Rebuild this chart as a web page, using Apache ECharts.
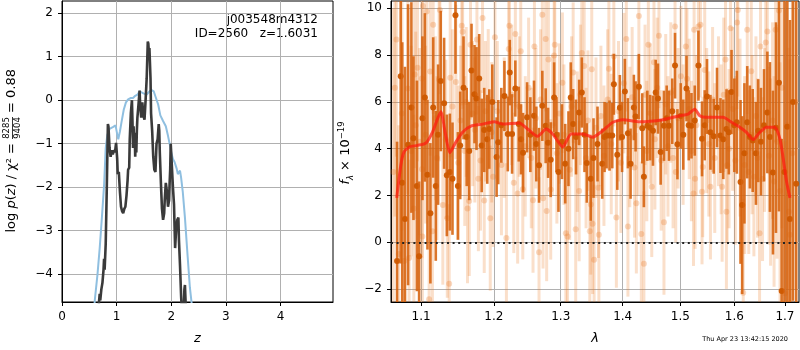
<!DOCTYPE html>
<html>
<head>
<meta charset="utf-8">
<script src="https://cdn.jsdelivr.net/npm/echarts@6.0.0/dist/echarts.min.js"></script>
<style>
html, body { margin: 0; padding: 0; background: #fff; }
#chart { width: 800px; height: 350px; }
</style>
</head>
<body>
<div id="chart"></div>
<script>
// ==========================================
// DATA
// ==========================================
// left panel: log p(z), black = fit, blue = prior-ish curve
const pzBlack = [
  [0.66,-4.9],[0.69,-4.45],[0.70,-4.6],[0.72,-4.35],[0.74,-4.2],[0.76,-3.9],[0.77,-3.65],[0.78,-3.9],
  [0.80,-3.3],[0.82,-2.0],[0.84,-0.55],[0.85,-0.6],[0.87,-1.1],[0.89,-1.3],[0.91,-1.15],[0.93,-1.25],
  [0.95,-1.15],[0.97,-1.2],[0.99,-0.98],[1.01,-1.35],[1.02,-1.7],[1.04,-1.65],[1.06,-2.1],[1.08,-2.45],
  [1.10,-2.55],[1.12,-2.6],[1.14,-2.5],[1.16,-2.45],[1.18,-2.2],[1.20,-1.85],[1.21,-1.6],[1.23,-1.55],
  [1.24,-0.9],[1.26,-0.3],[1.28,0.0],[1.29,-0.5],[1.30,-1.1],[1.31,-0.6],[1.32,-1.0],[1.33,-0.75],
  [1.34,-1.3],[1.35,-0.9],[1.36,-1.2],[1.37,-0.7],[1.38,-0.4],[1.40,-0.1],[1.42,0.22],[1.43,-0.1],
  [1.45,-0.4],[1.47,-0.05],[1.49,-0.35],[1.51,-0.45],[1.53,0.0],[1.55,0.5],[1.57,1.35],[1.58,1.3],
  [1.59,1.1],[1.60,1.2],[1.62,0.5],[1.63,-0.3],[1.65,-0.7],[1.67,-1.3],[1.69,-1.6],[1.71,-1.65],
  [1.73,-1.0],[1.75,-0.9],[1.77,-0.55],[1.78,-0.7],[1.79,-1.2],[1.81,-1.9],[1.83,-2.5],[1.85,-2.75],
  [1.87,-2.6],[1.88,-2.3],[1.90,-1.9],[1.92,-2.1],[1.94,-2.45],[1.96,-2.3],[1.97,-1.9],[1.98,-1.6],
  [1.99,-1.0],[2.01,-1.5],[2.03,-2.0],[2.05,-2.4],[2.06,-2.9],[2.07,-3.4],[2.09,-2.95],[2.11,-2.75],
  [2.13,-2.7],[2.14,-3.2],[2.16,-3.8],[2.18,-4.5],[2.20,-5.0],[2.22,-5.2],[2.24,-4.35],[2.25,-4.25],
  [2.27,-4.9],[2.29,-5.3]
];
const pzBlue = [
  [0.55,-5.6],[0.60,-4.6],[0.65,-4.0],[0.69,-3.4],[0.73,-2.7],[0.77,-1.96],[0.80,-1.1],[0.83,-0.8],
  [0.87,-0.66],[0.93,-0.62],[0.98,-0.58],[1.01,-0.78],[1.03,-0.9],[1.06,-0.72],[1.09,-0.5],[1.13,-0.22],
  [1.17,-0.05],[1.21,0.02],[1.26,0.05],[1.30,0.05],[1.34,0.1],[1.38,0.13],[1.42,0.2],[1.45,0.22],
  [1.50,0.15],[1.55,0.13],[1.60,0.2],[1.64,0.23],[1.68,0.2],[1.72,0.05],[1.76,-0.1],[1.80,-0.35],
  [1.85,-0.48],[1.90,-0.6],[1.94,-0.82],[1.97,-1.0],[2.00,-1.2],[2.03,-1.35],[2.06,-1.42],[2.08,-1.5],
  [2.10,-1.58],[2.12,-1.7],[2.14,-1.66],[2.16,-1.62],[2.18,-1.78],[2.21,-2.1],[2.25,-2.7],[2.30,-3.6],
  [2.34,-4.3],[2.38,-4.75],[2.42,-5.6]
];
const zTicks = [0, 1, 2, 3, 4];
const logpTicks = [-4, -3, -2, -1, 0, 1, 2];

// right panel: spectrum [lambda, flux, err]
const darkPts = [
  [1.0688,-0.8,5.1],[1.0735,7.1,8.0],[1.0755,2.55,6.0],[1.0790,1.0,6.5],[1.0830,4.17,6.0],[1.0873,5.76,4.5],
  [1.0900,4.45,3.5],[1.0945,2.41,4.5],[1.0974,-0.6,3.2],[1.1018,5.3,3.5],[1.1050,6.19,3.6],[1.1084,2.89,3.2],
  [1.1123,1.24,3.0],[1.1160,5.76,3.0],[1.1195,2.41,3.2],[1.1226,4.6,3.0],[1.1262,6.89,3.0],[1.1307,5.94,2.8],
  [1.1344,2.86,2.6],[1.1385,3.0,2.5],[1.1421,2.72,2.4],[1.1462,9.7,2.5],[1.1495,2.41,2.3],[1.1527,4.14,2.3],
  [1.1573,6.6,2.2],[1.1617,4.5,2.1],[1.1652,3.9,2.1],[1.1684,7.34,2.0],[1.1726,6.33,2.1],[1.1754,6.14,2.2],
  [1.1792,7.0,1.9],[1.1827,4.14,2.0],[1.1863,4.8,1.8],[1.1906,4.4,1.9],[1.1935,4.84,1.7],[1.1978,6.0,1.6],
  [1.2040,3.64,1.7],[1.2064,4.28,1.8],[1.2108,5.0,1.6],[1.2153,6.25,1.5],[1.2202,4.63,1.6],[1.2231,7.25,1.4],
  [1.2265,4.63,1.7],[1.2313,6.57,1.2],[1.2363,5.05,1.6],[1.2397,4.4,1.5],[1.2427,3.83,1.7],[1.2487,5.34,1.5],
  [1.2536,4.6,1.6],[1.2591,5.41,1.5],[1.2626,4.2,1.6],[1.2667,3.29,1.6],[1.2717,5.83,1.5],[1.2768,4.98,1.6],
  [1.2805,4.25,1.5],[1.2845,3.53,1.6],[1.2898,6.19,1.5],[1.2934,4.6,1.6],[1.2965,3.0,1.7],[1.3019,4.3,1.6],
  [1.3070,3.36,1.7],[1.3121,4.0,1.6],[1.3157,6.19,1.5],[1.3195,5.05,1.5],[1.3240,4.5,1.6],[1.3290,5.55,1.4],
  [1.3332,6.4,1.5],[1.3375,4.6,1.6],[1.3412,3.39,1.7],[1.3476,2.72,1.8],[1.3520,3.6,1.7],[1.3585,4.2,1.6],
  [1.3662,3.36,1.5],[1.3700,4.5,1.5],[1.3733,4.56,1.4],[1.3782,4.56,1.5],[1.3827,4.56,1.4],[1.3853,6.75,1.3],
  [1.3910,3.74,1.5],[1.3953,5.75,1.4],[1.3990,4.5,1.5],[1.4037,6.44,1.4],[1.4088,4.66,1.5],[1.4133,3.36,1.5],
  [1.4189,5.76,1.4],[1.4218,5.38,1.5],[1.4274,6.65,1.4],[1.4332,4.87,1.5],[1.4360,2.8,1.3],[1.4419,4.98,1.5],
  [1.4468,4.9,1.4],[1.4517,4.77,1.5],[1.4564,6.4,1.4],[1.4604,6.14,1.5],[1.4651,3.86,1.4],[1.4709,4.98,1.5],
  [1.4757,5.3,1.4],[1.4798,4.98,1.5],[1.4855,5.6,1.4],[1.4905,7.55,1.4],[1.4948,4.19,1.5],[1.5007,5.4,1.4],
  [1.5053,4.6,1.5],[1.5111,6.57,1.4],[1.5151,5.0,1.5],[1.5201,4.98,1.4],[1.5261,5.2,1.5],[1.5328,7.55,1.5],
  [1.5394,4.42,1.6],[1.5444,5.0,1.5],[1.5486,6.23,1.6],[1.5550,4.7,1.6],[1.5611,4.53,1.6],[1.5673,5.76,1.7],
  [1.5738,4.56,1.6],[1.5791,4.4,1.7],[1.5852,4.84,1.7],[1.5896,4.7,1.8],[1.5947,6.42,1.8],[1.6001,5.0,2.0],
  [1.6049,5.13,2.2],[1.6120,2.58,3.5],[1.6152,1.59,3.8],[1.6195,3.8,3.0],[1.6250,5.13,2.4],[1.6301,4.5,2.2],
  [1.6357,4.35,2.2],[1.6420,3.8,2.2],[1.6465,4.77,2.2],[1.6519,4.3,2.3],[1.6579,5.0,2.4],[1.6646,5.55,2.6],
  [1.6697,4.5,3.2],[1.6758,2.98,3.5],[1.6818,4.9,4.5],[1.6878,6.82,5.5],[1.6933,-2.08,6.5],[1.6990,3.0,7.5],
  [1.7048,4.94,8.0],[1.7102,1.0,8.5],[1.7163,6.0,8.5],[1.7230,2.5,9.0]
];
const lightPts = [
  [1.064,3.0,7.0],[1.066,6.6,5.5],[1.068,8.66,5.0],[1.071,-0.5,5.5],[1.075,5.5,5.0],[1.078,-0.8,4.5],
  [1.0827,6.57,4.5],[1.0843,-0.67,4.2],[1.087,3.9,4.5],[1.0905,1.45,4.0],[1.0915,7.17,4.0],[1.093,5.0,4.0],
  [1.0953,7.46,4.0],[1.098,4.3,4.0],[1.101,7.0,3.8],[1.1012,3.12,3.8],[1.1017,0.25,3.8],[1.1025,10.1,4.0],
  [1.106,4.6,3.8],[1.1073,9.86,4.0],[1.1106,-2.43,3.8],[1.112,7.3,3.6],[1.115,0.47,3.6],[1.116,9.29,3.8],
  [1.119,5.3,3.5],[1.121,3.6,3.5],[1.124,6.96,3.5],[1.125,9.93,3.6],[1.129,1.59,3.4],[1.133,4.4,3.4],
  [1.135,1.03,3.4],[1.1376,-1.77,3.4],[1.139,7.03,3.4],[1.142,5.8,3.3],[1.1467,6.85,3.3],[1.150,3.4,3.3],
  [1.153,5.2,3.2],[1.1548,9.25,3.4],[1.156,9.0,3.3],[1.159,3.9,3.2],[1.161,6.0,3.2],[1.1628,1.45,3.2],
  [1.1652,1.76,3.2],[1.167,8.44,3.2],[1.170,5.5,3.1],[1.173,4.8,3.1],[1.176,8.66,3.2],[1.178,2.72,3.1],
  [1.181,3.5,3.0],[1.1839,9.58,3.2],[1.1863,1.79,3.1],[1.188,5.6,3.0],[1.192,6.11,3.0],[1.1949,1.03,3.1],
  [1.197,4.7,3.0],[1.199,2.8,3.0],[1.2016,8.76,3.1],[1.205,5.6,3.0],[1.211,3.3,3.0],[1.215,4.9,3.0],
  [1.2182,0.18,3.2],[1.2216,8.26,3.1],[1.2225,9.25,3.2],[1.226,6.3,3.0],[1.229,2.54,3.0],[1.2313,8.9,3.1],
  [1.2347,2.09,3.0],[1.237,5.8,3.0],[1.2393,8.16,3.1],[1.2423,2.27,3.0],[1.246,4.1,3.0],[1.251,6.6,3.0],
  [1.255,3.6,3.0],[1.2576,1.8,3.1],[1.2597,8.37,3.1],[1.262,5.3,3.0],[1.2667,-0.42,3.2],[1.269,6.1,3.0],
  [1.2717,9.72,3.2],[1.2728,1.88,3.0],[1.2768,8.69,3.1],[1.2783,1.34,3.0],[1.281,7.81,3.0],[1.2845,2.26,3.0],
  [1.287,5.0,3.0],[1.2898,7.98,3.0],[1.2908,8.44,3.1],[1.294,3.8,3.0],[1.298,5.5,3.0],[1.3026,6.82,3.0],
  [1.305,4.6,3.0],[1.308,0.39,3.1],[1.3106,0.25,3.1],[1.314,3.1,3.0],[1.317,5.8,3.0],[1.3195,7.25,3.0],
  [1.3235,0.56,3.1],[1.326,4.3,3.0],[1.329,2.19,3.0],[1.331,6.3,3.0],[1.3332,8.09,3.1],[1.337,7.53,3.0],
  [1.340,3.6,3.0],[1.343,5.2,3.0],[1.346,0.47,3.1],[1.3476,1.62,3.0],[1.3492,7.39,3.0],[1.3505,0.79,3.0],
  [1.353,-0.74,3.2],[1.356,4.9,3.0],[1.360,2.33,3.0],[1.3607,0.32,3.1],[1.364,5.4,3.0],[1.369,3.7,3.0],
  [1.375,6.1,3.0],[1.3771,7.42,3.0],[1.381,4.2,3.0],[1.3853,7.95,3.0],[1.3895,1.06,3.0],[1.393,5.6,3.0],
  [1.397,3.4,3.0],[1.402,6.8,3.0],[1.4061,8.69,3.1],[1.4088,0.68,3.0],[1.412,4.5,3.0],[1.416,6.2,3.0],
  [1.420,3.2,3.0],[1.4231,1.67,3.0],[1.426,5.0,3.0],[1.4274,9.67,3.2],[1.4316,0.35,3.1],[1.436,-0.92,3.1],
  [1.438,6.3,3.0],[1.441,3.9,3.0],[1.4437,8.44,3.0],[1.447,5.5,3.0],[1.4496,2.37,3.0],[1.4534,7.69,3.0],
  [1.455,4.4,3.0],[1.459,6.6,3.0],[1.4621,8.83,3.1],[1.466,3.5,3.0],[1.4709,0.86,3.1],[1.474,5.9,3.0],
  [1.478,4.1,3.0],[1.483,6.4,3.0],[1.487,3.6,3.0],[1.4905,9.22,3.1],[1.4918,3.0,3.0],[1.496,5.3,3.0],
  [1.501,7.1,3.0],[1.505,4.6,3.0],[1.5099,8.37,3.1],[1.512,6.99,3.0],[1.516,5.7,3.0],[1.520,3.9,3.0],
  [1.5238,2.09,3.1],[1.5249,9.08,3.1],[1.5267,2.72,3.0],[1.529,5.0,3.0],[1.5328,9.22,3.1],[1.5365,9.29,3.1],
  [1.5394,2.16,3.1],[1.5407,3.22,3.0],[1.5444,7.36,3.0],[1.548,5.2,3.1],[1.552,4.2,3.1],[1.555,2.37,3.1],
  [1.559,6.1,3.1],[1.563,3.6,3.2],[1.570,5.6,3.2],[1.575,4.4,3.2],[1.5769,2.37,3.2],[1.580,6.3,3.3],
  [1.5833,7.81,3.3],[1.585,1.31,3.3],[1.5865,3.29,3.3],[1.590,4.0,3.4],[1.5928,9.15,3.4],[1.597,5.7,3.5],
  [1.602,3.5,3.6],[1.6054,9.39,3.7],[1.6068,9.93,3.7],[1.611,4.9,3.8],[1.6172,-2.15,4.0],[1.620,3.3,3.8],
  [1.625,9.08,3.6],[1.628,3.0,3.5],[1.6328,7.31,3.4],[1.6345,4.6,3.4],[1.638,2.8,3.4],[1.642,5.4,3.4],
  [1.645,3.6,3.4],[1.6491,0.39,3.5],[1.651,8.37,3.5],[1.655,2.7,3.5],[1.659,4.8,3.5],[1.6614,8.54,3.6],
  [1.6646,9.01,3.6],[1.668,3.7,3.8],[1.671,3.0,4.0],[1.675,5.2,4.2],[1.678,2.6,4.5],[1.6811,9.08,4.8],
  [1.684,4.3,5.0],[1.6878,9.9,5.5],[1.690,2.19,5.5],[1.694,6.6,6.0],[1.700,-2.18,6.5],[1.704,5.0,7.0],
  [1.708,1.31,7.0],[1.7102,0.32,7.5],[1.715,3.8,8.0],[1.722,6.0,8.0]
];
const modelLine = [
  [1.0684,1.9],[1.0736,3.29],[1.0778,3.86],[1.0843,4.07],[1.0951,4.14],[1.1062,4.24],[1.1150,4.7],
  [1.1263,5.58],[1.1321,4.7],[1.1385,3.83],[1.1467,4.28],[1.1559,4.7],[1.1676,4.96],[1.1839,5.05],
  [1.2006,5.15],[1.2126,5.05],[1.2372,5.1],[1.2496,4.84],[1.2646,4.53],[1.2774,4.84],[1.2876,4.63],
  [1.3031,4.07],[1.3163,4.63],[1.3348,4.63],[1.3508,4.49],[1.3671,4.77],[1.3836,5.13],[1.4003,5.24],
  [1.4287,5.15],[1.4691,5.24],[1.4989,5.41],[1.5139,5.48],[1.5261,5.69],[1.5352,5.41],[1.5476,5.34],
  [1.5787,5.34],[1.5947,5.13],[1.6106,4.92],[1.6236,4.7],[1.6365,4.39],[1.6497,4.7],[1.6631,4.92],
  [1.6797,4.92],[1.6898,4.42],[1.6965,3.57],[1.7034,2.58],[1.7102,1.9]
];
const lamTicks = [1.1, 1.2, 1.3, 1.4, 1.5, 1.6, 1.7];
const fluxTicks = [-2, 0, 2, 4, 6, 8, 10];

// ==========================================
// HELPERS
// ==========================================
const FONT = 'DejaVu Sans';
const minus = v => (v < 0 ? '\u2212' + Math.abs(v) : String(v));

function errBars(barColor, dotColor, barWidth) {
  return function (params, api) {
    const cs = params.coordSys;
    const x = api.value(0), y = api.value(1), e = api.value(2);
    const c = api.coord([x, y]);
    const hi = api.coord([x, y + e]);
    const lo = api.coord([x, y - e]);
    const top = cs.y, bot = cs.y + cs.height;
    if (c[0] < cs.x || c[0] > cs.x + cs.width) return null;
    const y1 = Math.max(top, Math.min(bot, hi[1]));
    const y2 = Math.max(top, Math.min(bot, lo[1]));
    const kids = [{
      type: 'line',
      shape: { x1: c[0], y1: y1, x2: c[0], y2: y2 },
      style: { stroke: barColor, lineWidth: barWidth }
    }];
    if (c[1] >= top && c[1] <= bot) {
      kids.push({ type: 'circle', shape: { cx: c[0], cy: c[1], r: 3 }, style: { fill: dotColor } });
    }
    return { type: 'group', children: kids };
  };
}

function axisCommon(ticks, fmt) {
  return {
    axisLine: { show: true, onZero: false, lineStyle: { color: '#000', width: 1 } },
    axisTick: { show: true, customValues: ticks, length: 4, lineStyle: { color: '#000' } },
    axisLabel: { customValues: ticks, formatter: fmt, color: '#000', fontFamily: FONT, fontSize: 12, margin: 9 },
    splitLine: { show: true, lineStyle: { color: '#b0b0b0', width: 1 } }
  };
}

// ==========================================
// CHART
// ==========================================
const chart = echarts.init(document.getElementById('chart'), null, { renderer: 'canvas' });

const lnLamTicks = lamTicks.map(Math.log);

const option = {
  animation: false,
  backgroundColor: '#fff',
  textStyle: { fontFamily: FONT },
  grid: [
    { left: 62, top: 1, width: 271, height: 303, show: true, borderColor: '#000', borderWidth: 1, backgroundColor: 'transparent' },
    { left: 391, top: 1, width: 408, height: 303, show: true, borderColor: '#000', borderWidth: 1, backgroundColor: 'transparent' }
  ],
  xAxis: [
    Object.assign({
      gridIndex: 0, type: 'value', min: 0, max: 4.96,
      name: 'z', nameLocation: 'middle', nameGap: 30,
      nameTextStyle: { fontFamily: FONT, fontSize: 13, fontStyle: 'italic', color: '#000' }
    }, axisCommon(zTicks, v => minus(v))),
    Object.assign({
      gridIndex: 1, type: 'value', min: Math.log(1.0611), max: Math.log(1.7288),
      name: 'λ', nameLocation: 'middle', nameGap: 30,
      nameTextStyle: { fontFamily: FONT, fontSize: 13, fontStyle: 'italic', color: '#000' }
    }, axisCommon(lnLamTicks, v => Math.exp(v).toFixed(1)))
  ],
  yAxis: [
    Object.assign({ gridIndex: 0, type: 'value', min: -4.64, max: 2.28 }, axisCommon(logpTicks, v => minus(v))),
    Object.assign({ gridIndex: 1, type: 'value', min: -2.55, max: 10.31 }, axisCommon(fluxTicks, v => minus(v)))
  ],
  series: [
    {
      type: 'line', xAxisIndex: 0, yAxisIndex: 0, data: pzBlue, showSymbol: false,
      lineStyle: { color: '#8fbfe0', width: 2 }, clip: true, z: 2
    },
    {
      type: 'line', xAxisIndex: 0, yAxisIndex: 0, data: pzBlack, showSymbol: false,
      lineStyle: { color: '#3a3a3a', width: 2.6 }, clip: true, z: 3
    },
    {
      type: 'custom', xAxisIndex: 1, yAxisIndex: 1,
      data: lightPts.map(p => [Math.log(p[0]), p[1], p[2]]),
      encode: { x: 0, y: 1 },
      renderItem: errBars('rgba(235,120,35,0.24)', 'rgba(235,120,35,0.28)', 3),
      z: 2
    },
    {
      type: 'custom', xAxisIndex: 1, yAxisIndex: 1,
      data: darkPts.map(p => [Math.log(p[0]), p[1], p[2]]),
      encode: { x: 0, y: 1 },
      renderItem: errBars('rgba(214,98,12,0.88)', 'rgba(205,88,0,0.95)', 2.6),
      z: 3
    },
    {
      type: 'line', xAxisIndex: 1, yAxisIndex: 1,
      data: modelLine.map(p => [Math.log(p[0]), p[1]]),
      showSymbol: false, smooth: 0.2,
      lineStyle: { color: 'rgba(255,25,15,0.72)', width: 3 }, z: 5,
      markLine: {
        silent: true, symbol: 'none', label: { show: false },
        lineStyle: { color: '#222', type: [2, 3.6], width: 2 },
        data: [{ yAxis: 0 }]
      }
    }
  ],
  graphic: [
    {
      type: 'text', x: 318, y: 20,
      style: { text: 'j003548m4312', fontFamily: FONT, fontSize: 12, fill: '#000', align: 'right', verticalAlign: 'middle' }
    },
    {
      type: 'text', x: 318, y: 34,
      style: { text: 'ID=2560   z=1.6031', fontFamily: FONT, fontSize: 12, fill: '#000', align: 'right', verticalAlign: 'middle' }
    },
    {
      type: 'group', x: 12, y: 153, rotation: Math.PI / 2,
      children: [
        {
          type: 'text', x: 10, y: 0,
          style: {
            text: '{n|log }{i|p}{n|(}{i|z}{n|) / χ² =}',
            align: 'right', verticalAlign: 'middle',
            rich: {
              n: { fontFamily: FONT, fontSize: 13, fill: '#000' },
              i: { fontFamily: FONT, fontSize: 13, fontStyle: 'italic', fill: '#000' }
            }
          }
        },
        {
          type: 'text', x: 25, y: -5,
          style: { text: '8285', fontFamily: FONT, fontSize: 8.5, fill: '#000', align: 'center', verticalAlign: 'middle' }
        },
        { type: 'line', shape: { x1: 14, y1: 0.5, x2: 36, y2: 0.5 }, style: { stroke: '#000', lineWidth: 0.8 } },
        {
          type: 'text', x: 25, y: 6,
          style: { text: '9404', fontFamily: FONT, fontSize: 8.5, fill: '#000', align: 'center', verticalAlign: 'middle' }
        },
        {
          type: 'text', x: 40, y: 0,
          style: { text: '= 0.88', fontFamily: FONT, fontSize: 13, fill: '#000', align: 'left', verticalAlign: 'middle' }
        }
      ]
    },
    {
      type: 'group', x: 346, y: 153, rotation: Math.PI / 2,
      children: [
        {
          type: 'text', x: 0, y: 0,
          style: {
            text: '{i|f}{sub|λ}{n| × 10}{sup|\u221219}',
            align: 'center', verticalAlign: 'middle',
            rich: {
              i: { fontFamily: FONT, fontSize: 13, fontStyle: 'italic', fill: '#000', lineHeight: 18 },
              n: { fontFamily: FONT, fontSize: 13, fill: '#000', lineHeight: 18 },
              sub: { fontFamily: FONT, fontSize: 8.5, fontStyle: 'italic', fill: '#000', verticalAlign: 'bottom' },
              sup: { fontFamily: FONT, fontSize: 8.5, fill: '#000', verticalAlign: 'top' }
            }
          }
        }
      ]
    },
    {
      type: 'text', x: 788, y: 339,
      style: { text: 'Thu Apr 23 13:42:15 2020', fontFamily: FONT, fontSize: 6.5, fill: '#000', align: 'right', verticalAlign: 'middle' }
    }
  ]
};

chart.setOption(option);

window.addEventListener('resize', () => {
  chart.resize();
});
</script>
</body>
</html>
